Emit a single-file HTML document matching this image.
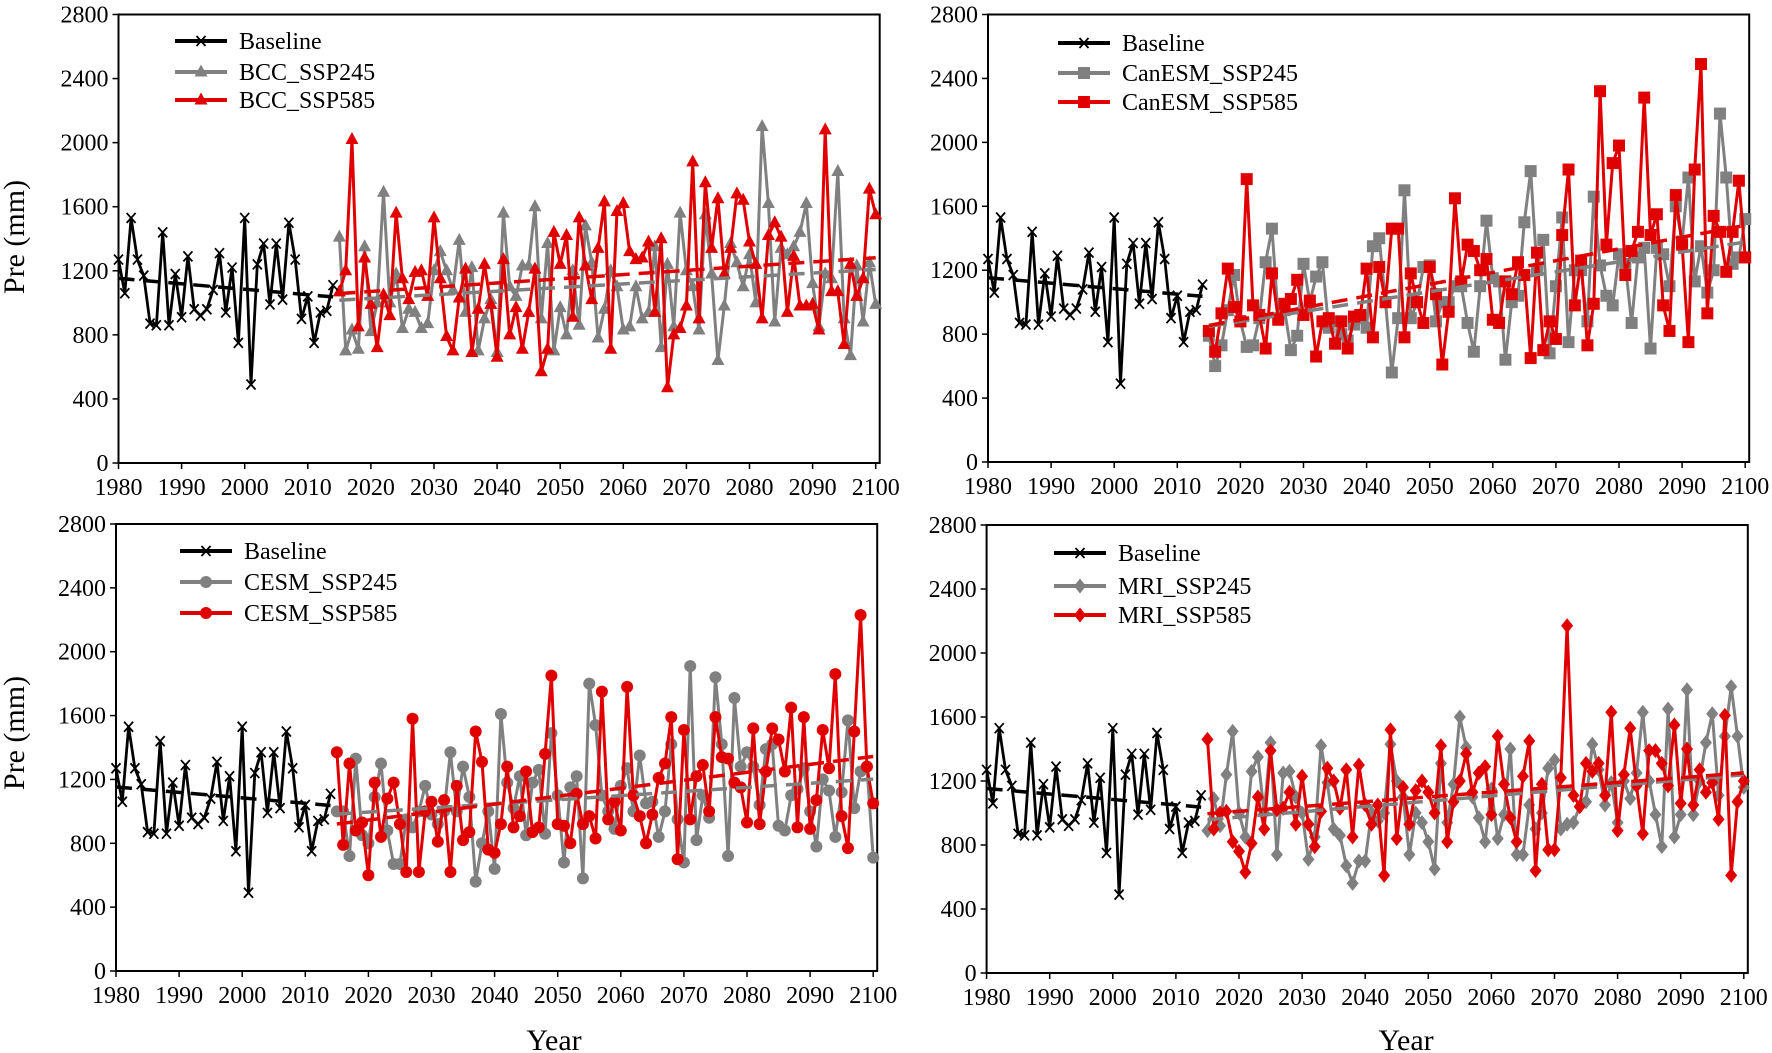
<!DOCTYPE html>
<html><head><meta charset="utf-8">
<style>
html,body{margin:0;padding:0;background:#fff;}
svg{display:block;font-family:"Liberation Serif",serif;}
svg text{font-family:"Liberation Serif",serif;}
</style></head>
<body>
<svg id="chart" width="1772" height="1053" viewBox="0 0 1772 1053" xmlns="http://www.w3.org/2000/svg"></svg>
<script>
const baselineYears = [1980,1981,1982,1983,1984,1985,1986,1987,1988,1989,1990,1991,1992,1993,1994,1995,1996,1997,1998,1999,2000,2001,2002,2003,2004,2005,2006,2007,2008,2009,2010,2011,2012,2013,2014];
const baselineValues = [1270,1060,1530,1270,1170,870,860,1440,860,1180,910,1290,960,920,960,1080,1310,940,1220,750,1530,490,1240,1370,990,1370,1020,1500,1270,900,1040,750,940,950,1110];
const futureStartYear = 2015;
const bccSsp245 = [1410,700,830,710,1350,820,1000,1690,1000,1180,840,960,940,840,870,1200,1320,1200,1080,1390,940,1220,700,900,1020,690,1560,1100,1040,1230,1230,1600,900,1370,700,970,800,1200,860,1480,1250,780,960,1200,1100,830,850,1100,900,940,1350,720,1240,850,1560,1200,1100,830,1550,1180,640,980,1370,1250,1100,1300,1000,2100,1620,880,1340,1300,1350,1440,1620,1120,850,1180,1150,1820,900,670,1230,880,1250,990];
const bccSsp585 = [1068,1200,2020,850,1280,990,720,1050,920,1560,1150,1020,1190,1200,1040,1530,1150,790,700,1030,1210,690,960,1240,990,660,1270,800,970,710,940,1210,570,710,1440,1240,1420,910,1530,1230,1020,1340,1630,710,1570,1620,1320,1270,1280,1380,940,1400,470,800,840,980,1880,900,1750,1340,1650,1180,1340,1680,1640,1380,1240,900,1420,1500,1410,940,1290,980,980,990,830,2080,1070,1070,740,1240,1040,1150,1710,1550];
const canSsp245 = [790,600,730,950,1170,880,720,730,900,1250,1460,900,950,700,790,1240,1000,1160,1250,840,880,800,760,860,900,840,1350,1400,1000,560,900,1700,900,1000,1220,1230,880,1000,1000,1100,1100,870,690,1100,1510,1150,1130,640,1000,1040,1500,1820,1200,1390,680,1100,1530,750,1200,1200,880,1660,1230,1040,980,1300,1240,870,1280,1340,710,1340,1300,1100,1600,1380,1780,1130,1350,1060,1200,2180,1780,1240,1280,1520];
const canSsp585 = [820,690,930,1210,970,880,1770,980,920,710,1180,890,990,1020,1140,920,1010,660,880,900,740,880,710,910,920,1210,780,1220,1000,1460,1460,780,1180,1000,870,1220,1050,610,940,1650,1130,1360,1320,1200,1270,890,870,1130,1050,1250,1170,650,1310,700,880,770,1420,1830,980,1260,730,990,2320,1360,1870,1980,1170,1320,1440,2280,1420,1550,980,820,1670,1360,750,1830,2490,930,1540,1440,1190,1440,1760,1280];
const cesmSsp245 = [1000,1000,720,1330,850,800,1090,1300,880,670,670,950,900,1000,1160,980,920,1000,1370,1000,1280,1090,560,800,1000,640,1610,1180,1020,1220,850,1180,1260,860,1490,1100,680,1150,1220,580,1800,1540,1100,1000,890,1160,1270,1000,1350,1050,1060,840,1000,1420,950,680,1910,820,1100,960,1840,1420,720,1710,1280,1370,1280,1040,1390,1420,910,880,1100,1140,1270,1000,780,1200,1130,840,1120,1570,1020,1250,1280,710];
const cesmSsp585 = [1370,790,1300,880,930,600,1180,840,1080,1180,920,620,1580,620,1000,1060,810,1070,620,1160,820,870,1500,1310,760,740,920,1280,900,970,1250,870,900,1360,1850,920,910,800,1110,920,970,830,1750,950,1060,880,1780,1100,970,800,980,1210,1300,1590,700,1510,950,1220,1290,1000,1590,1340,1330,1180,1150,930,1520,920,1250,1520,1450,1250,1650,900,1590,890,1070,1510,1270,1860,970,770,1500,2230,1280,1050];
const mriSsp245 = [890,1090,920,1240,1510,1000,850,1260,1350,1000,1440,740,1250,1260,1100,1000,710,850,1420,1190,900,860,670,560,700,700,1000,950,1000,1430,1200,1100,740,1000,940,820,650,1310,940,1180,1600,1410,1100,970,820,1150,840,990,1400,740,740,1050,900,1000,1280,1330,900,930,940,1040,1070,1430,1270,1050,1190,940,1200,1090,1250,1630,1200,990,790,1650,850,990,1770,990,1200,1440,1620,1110,1480,1790,1480,1160];
const mriSsp585 = [1460,900,1000,1010,820,760,630,810,1100,900,1390,1020,1030,1130,930,1230,930,790,1010,1280,1200,1030,1270,850,1300,1050,930,1050,610,1520,840,1160,930,1140,1200,1130,1000,1420,820,1070,1200,1370,1130,1250,1290,990,1480,1180,970,820,1230,1450,640,1180,770,770,1220,2170,1110,1040,1310,1260,1310,1110,1630,890,1240,1530,1170,870,1390,1390,1310,1170,1550,1060,1400,1050,1270,1130,1190,960,1610,610,1070,1200];
const yTicks = [0,400,800,1200,1600,2000,2400,2800];
const xTicks = [1980,1990,2000,2010,2020,2030,2040,2050,2060,2070,2080,2090,2100];

const NS = "http://www.w3.org/2000/svg";
const svg = document.getElementById('chart');
const GRAY = '#808080', RED = '#e00000', BLACK = '#000';
const PPY = 6.31;

function mk(tag, attrs, parent){
  const e = document.createElementNS(NS, tag);
  for (const k in attrs) e.setAttribute(k, attrs[k]);
  (parent||svg).appendChild(e);
  return e;
}

function marker(g, kind, cx, cy, color){
  let m;
  if (kind === 'x') {
    m = mk('path', {d:`M${cx-4.5},${cy-5}L${cx+4.5},${cy+5}M${cx+4.5},${cy-5}L${cx-4.5},${cy+5}`, stroke:color, 'stroke-width':1.8, fill:'none'}, g);
  } else if (kind === 'tri') {
    m = mk('polygon', {points:`${cx},${cy-7.5} ${cx-6.5},${cy+4.5} ${cx+6.5},${cy+4.5}`, fill:color}, g);
  } else if (kind === 'sq') {
    m = mk('rect', {x:cx-6, y:cy-6, width:12, height:12, fill:color}, g);
  } else if (kind === 'circ') {
    m = mk('circle', {cx:cx, cy:cy, r:6, fill:color}, g);
  } else {
    m = mk('polygon', {points:`${cx},${cy-7.5} ${cx+6},${cy} ${cx},${cy+7.5} ${cx-6},${cy}`, fill:color}, g);
  }
  
  
}

function linreg(xs, ys){
  const n = xs.length;
  let sx=0, sy=0, sxx=0, sxy=0;
  for (let i=0;i<n;i++){ sx+=xs[i]; sy+=ys[i]; sxx+=xs[i]*xs[i]; sxy+=xs[i]*ys[i]; }
  const b = (n*sxy - sx*sy)/(n*sxx - sx*sx);
  const a = (sy - b*sx)/n;
  return x => a + b*x;
}

function drawPanel(p){
  const g = mk('g', {});
  
  
  const X = yr => p.left + (yr-1980)*PPY;
  const Y = v => p.y0 - v*(p.y0 - p.y2800)/2800;
  const right = X(2100) + 4;

  const fr = mk('rect', {x:p.left, y:p.y2800, width:right-p.left, height:p.y0-p.y2800, fill:'none', stroke:'#000', 'stroke-width':2}, g);
  
  

  yTicks.forEach(v => {
    const t = mk('line', {x1:p.left-6, x2:p.left, y1:Y(v), y2:Y(v), stroke:'#000', 'stroke-width':1.5}, g);
    
    
    const l = mk('text', {x:p.left-10, y:Y(v)+8, 'text-anchor':'end', 'font-size':24}, g);
    
    
    l.textContent = v;
  });
  xTicks.forEach(yr => {
    const t = mk('line', {x1:X(yr), x2:X(yr), y1:p.y0, y2:p.y0+6, stroke:'#000', 'stroke-width':1.5}, g);
    
    
    const l = mk('text', {x:X(yr), y:p.y0+32, 'text-anchor':'middle', 'font-size':24}, g);
    
    
    l.textContent = yr;
  });

  const futYears = p.s245.map((_,i)=>futureStartYear+i);
  function series(years, vals, color, kind, name, width){
    const sg = mk('g', {}, g);
    
    
    const pts = years.map((yr,i)=>`${X(yr).toFixed(1)},${Y(vals[i]).toFixed(1)}`).join(' ');
    const pl = mk('polyline', {points:pts, fill:'none', stroke:color, 'stroke-width':width, 'stroke-linejoin':'round'}, sg);
    
    
    years.forEach((yr,i)=>marker(sg, kind, X(yr), Y(vals[i]), color));
  }
  function trend(years, vals, color, name){
    const f = linreg(years, vals);
    const y1 = years[0], y2 = years[years.length-1];
    const tl = mk('line', {x1:X(y1), y1:Y(f(y1)), x2:X(y2), y2:Y(f(y2)), stroke:color, 'stroke-width':3.5, 'stroke-dasharray':'16 9'}, g);
    
    
  }
  series(futYears, p.s245, GRAY, p.kind, 'ssp245-series', 3);
  series(futYears, p.s585, RED, p.kind, 'ssp585-series', 3);
  series(baselineYears, baselineValues, BLACK, 'x', 'baseline-series', 2.8);
  trend(futYears, p.s245, GRAY, 'ssp245-trend');
  trend(futYears, p.s585, RED, 'ssp585-trend');
  trend(baselineYears, baselineValues, BLACK, 'baseline-trend');

  const lg = mk('g', {}, g);
  
  
  const entries = [['Baseline', BLACK, 'x'], [p.label+'_SSP245', GRAY, p.kind], [p.label+'_SSP585', RED, p.kind]];
  entries.forEach((e,i)=>{
    const ly = p.legY[i];
    const eg = mk('g', {}, lg);
    
    
    mk('line', {x1:p.legX, x2:p.legX+52, y1:ly, y2:ly, stroke:e[1], 'stroke-width':4}, eg);
    marker(eg, e[2], p.legX+26, ly, e[1]);
    const t = mk('text', {x:p.legX+64, y:ly+8, 'font-size':24}, eg);
    
    
    t.textContent = e[0];
  });
}

drawPanel({name:'panel-bcc', left:118.5, y0:463, y2800:14.5, s245:bccSsp245, s585:bccSsp585, kind:'tri', label:'BCC', legX:175, legY:[41,72,100]});
drawPanel({name:'panel-canesm', left:988, y0:462, y2800:14.5, s245:canSsp245, s585:canSsp585, kind:'sq', label:'CanESM', legX:1058, legY:[43,73,102]});
drawPanel({name:'panel-cesm', left:116, y0:971, y2800:524, s245:cesmSsp245, s585:cesmSsp585, kind:'circ', label:'CESM', legX:180, legY:[551,582,613]});
drawPanel({name:'panel-mri', left:986.6, y0:973, y2800:525, s245:mriSsp245, s585:mriSsp585, kind:'dia', label:'MRI', legX:1054, legY:[553,586,615]});

[[237,'y-axis-title-top'],[733,'y-axis-title-bottom']].forEach(([cy,nm])=>{
  const t = mk('text', {x:0, y:0, transform:`translate(24,${cy}) rotate(-90)`, 'text-anchor':'middle', 'font-size':30});
  
  
  t.textContent = 'Pre (mm)';
});
[[554,'x-axis-title-left'],[1406,'x-axis-title-right']].forEach(([cx,nm])=>{
  const t = mk('text', {x:cx, y:1050, 'text-anchor':'middle', 'font-size':30});
  
  
  t.textContent = 'Year';
});
</script>
</body></html>
